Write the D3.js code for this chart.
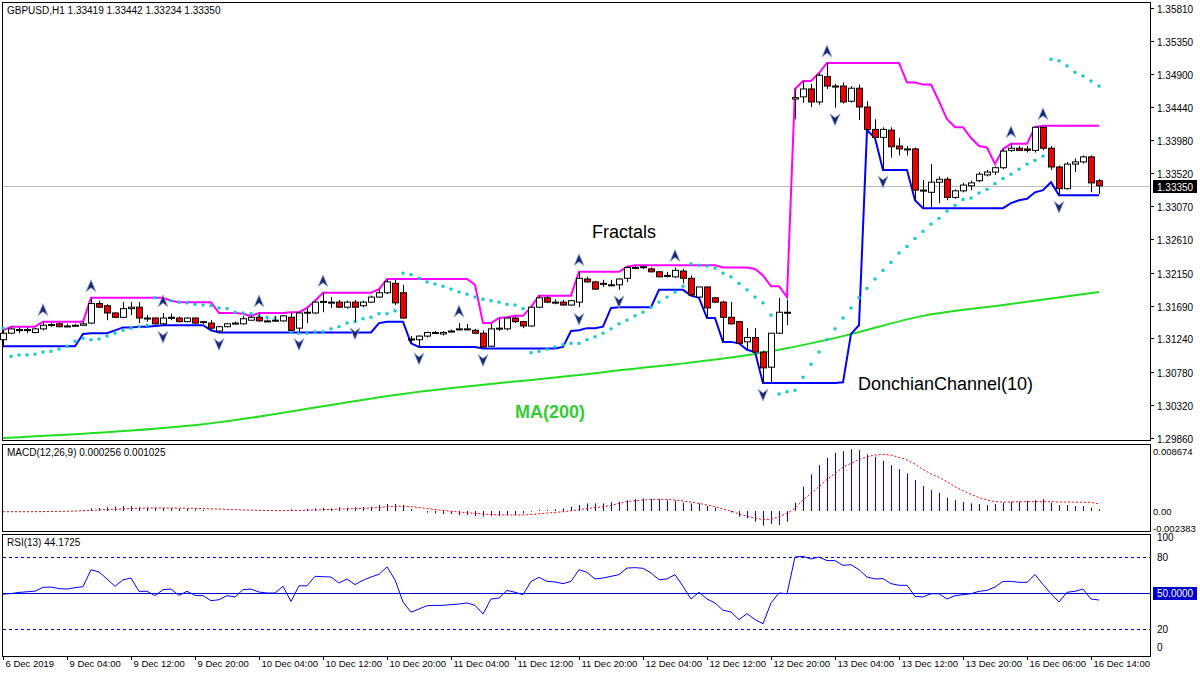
<!DOCTYPE html>
<html>
<head>
<meta charset="utf-8">
<script src="https://cdn.jsdelivr.net/npm/d3@7"></script>
<style>
body { margin: 0; background: #fff; }
svg text { font-family: "Liberation Sans", Arial, sans-serif; }
</style>
</head>
<body>
<svg id="chart" width="1200" height="675"></svg>
<script>
// GBPUSD H1 candles
var opens = [1.3122,1.3131,1.3136,1.3135,1.3132,1.3137,1.3142,1.3144,1.3141,1.3141,
1.3142,1.3145,1.3172,1.3169,1.3159,1.3153,1.3165,1.3167,1.3152,1.3152,
1.3144,1.3153,1.3152,1.3147,1.3152,1.3146,1.3145,1.3134,1.3140,1.3144,
1.3144,1.3149,1.3153,1.3148,1.3148,1.3148,1.3153,1.3138,1.3159,1.3159,
1.3174,1.3174,1.3174,1.3167,1.3174,1.3169,1.3174,1.3181,1.3187,1.3200,
1.3187,1.3123,1.3122,1.3127,1.3132,1.3130,1.3133,1.3136,1.3137,1.3135,
1.3131,1.3113,1.3137,1.3137,1.3152,1.3147,1.3141,1.3167,1.3180,1.3174,
1.3174,1.3170,1.3174,1.3206,1.3202,1.3200,1.3198,1.3198,1.3207,1.3222,
1.3222,1.3220,1.3216,1.3210,1.3209,1.3217,1.3207,1.3181,1.3195,1.3180,
1.3174,1.3153,1.3147,1.3119,1.3125,1.3105,1.3084,1.3131,1.3160,1.3455,
1.3458,1.3469,1.3451,1.3486,1.3473,1.3473,1.3452,1.3470,1.3444,1.3413,
1.3402,1.3412,1.3390,1.3386,1.3386,1.3329,1.3326,1.3340,1.3344,1.3319,
1.3328,1.3335,1.3342,1.3350,1.3354,1.3360,1.3384,1.3387,1.3386,1.3384,
1.3416,1.3387,1.3361,1.3331,1.3365,1.3368,1.3375,1.33419];
var highs = [1.3135,1.3140,1.3140,1.3140,1.3138,1.3147,1.3145,1.3145,1.3144,1.3144,
1.3147,1.3180,1.3176,1.3171,1.3160,1.3174,1.3174,1.3174,1.3156,1.3153,
1.3159,1.3158,1.3154,1.3153,1.3153,1.3148,1.3149,1.3141,1.3145,1.3147,
1.3155,1.3155,1.3159,1.3150,1.3155,1.3156,1.3160,1.3160,1.3166,1.3176,
1.3187,1.3181,1.3177,1.3176,1.3177,1.3176,1.3183,1.3192,1.3206,1.3206,
1.3198,1.3127,1.3128,1.3133,1.3134,1.3134,1.3136,1.3145,1.3144,1.3137,
1.3135,1.3144,1.3152,1.3153,1.3155,1.3148,1.3167,1.3183,1.3183,1.3178,
1.3177,1.3177,1.3216,1.3209,1.3203,1.3205,1.3205,1.3207,1.3223,1.3225,
1.3225,1.3222,1.3217,1.3216,1.3222,1.3220,1.3211,1.3195,1.3196,1.3181,
1.3176,1.3174,1.3148,1.3138,1.3138,1.3107,1.3131,1.3180,1.3177,1.3469,
1.3480,1.3476,1.3491,1.3505,1.3476,1.3478,1.3473,1.3475,1.3452,1.3427,
1.3416,1.3416,1.3401,1.3390,1.3388,1.3343,1.3365,1.3348,1.3347,1.3330,
1.3339,1.3342,1.3354,1.3357,1.3362,1.3386,1.3393,1.3390,1.3390,1.3416,
1.3418,1.3390,1.3363,1.3368,1.3373,1.3377,1.3377,1.33442];
var lows = [1.3113,1.3130,1.3131,1.3131,1.3131,1.3135,1.3140,1.3139,1.3140,1.3140,
1.3141,1.3144,1.3166,1.3149,1.3152,1.3152,1.3156,1.3145,1.3147,1.3143,
1.3142,1.3149,1.3146,1.3146,1.3144,1.3144,1.3135,1.3132,1.3139,1.3143,
1.3143,1.3148,1.3147,1.3147,1.3147,1.3147,1.3134,1.3132,1.3145,1.3158,
1.3160,1.3166,1.3166,1.3165,1.3147,1.3167,1.3173,1.3180,1.3185,1.3170,
1.3151,1.3117,1.3112,1.3125,1.3130,1.3128,1.3132,1.3135,1.3135,1.3130,
1.3110,1.3112,1.3134,1.3135,1.3145,1.3138,1.3140,1.3166,1.3173,1.3171,
1.3169,1.3169,1.3167,1.3201,1.3191,1.3195,1.3196,1.3191,1.3202,1.3220,
1.3220,1.3215,1.3209,1.3208,1.3208,1.3200,1.3183,1.3180,1.3152,1.3173,
1.3119,1.3143,1.3117,1.3108,1.3105,1.3062,1.3063,1.3130,1.3142,1.3427,
1.3450,1.3444,1.3447,1.3469,1.3443,1.3449,1.3450,1.3426,1.3412,1.3401,
1.3357,1.3374,1.3377,1.3377,1.3315,1.3304,1.3304,1.3311,1.3315,1.3317,
1.3326,1.3329,1.3340,1.3348,1.3350,1.3358,1.3382,1.3383,1.3381,1.3381,
1.3384,1.3357,1.3322,1.3330,1.3354,1.3366,1.3326,1.33234];
var closes = [1.3131,1.3137,1.3135,1.3136,1.3137,1.3142,1.3143,1.3140,1.3141,1.3142,
1.3144,1.3172,1.3167,1.3159,1.3153,1.3165,1.3167,1.3152,1.3151,1.3144,
1.3152,1.3153,1.3147,1.3152,1.3145,1.3147,1.3138,1.3140,1.3144,1.3145,
1.3151,1.3153,1.3148,1.3148,1.3149,1.3155,1.3135,1.3159,1.3160,1.3174,
1.3175,1.3174,1.3167,1.3174,1.3167,1.3174,1.3181,1.3187,1.3202,1.3173,
1.3152,1.3122,1.3127,1.3132,1.3132,1.3132,1.3134,1.3137,1.3137,1.3131,
1.3112,1.3137,1.3138,1.3152,1.3147,1.3141,1.3167,1.3180,1.3174,1.3174,
1.3170,1.3176,1.3207,1.3202,1.3192,1.3200,1.3198,1.3206,1.3222,1.3222,
1.3223,1.3216,1.3209,1.3211,1.3218,1.3207,1.3184,1.3195,1.3166,1.3174,
1.3153,1.3144,1.3117,1.3125,1.3105,1.3083,1.3131,1.3160,1.3159,1.3457,
1.3469,1.3451,1.3488,1.3473,1.3473,1.3451,1.3470,1.3444,1.3413,1.3402,
1.3413,1.3389,1.3386,1.3386,1.3329,1.3328,1.3340,1.3344,1.3319,1.3328,
1.3336,1.3339,1.3351,1.3354,1.3360,1.3383,1.3387,1.3384,1.3384,1.3416,
1.3387,1.3361,1.3331,1.3365,1.3368,1.3375,1.3339,1.33350];

// Parabolic SAR dots
var sar = [1.3138,1.3099,1.3101,1.3101,1.3102,1.3105,1.3106,1.3109,1.3113,1.3120,
1.3124,1.3122,1.3123,1.3127,1.3131,1.3135,1.3138,1.3140,1.3142,1.3180,
1.3177,1.3176,1.3174,1.3173,1.3171,1.3170,1.3169,1.3166,1.3165,1.3160,
1.3159,1.3158,1.3155,1.3153,1.3152,1.3152,1.3133,1.3131,1.3131,1.3133,
1.3133,1.3137,1.3140,1.3145,1.3147,1.3151,1.3153,1.3158,1.3158,1.3162,
1.3214,1.3212,1.3207,1.3202,1.3199,1.3196,1.3192,1.3188,1.3185,1.3181,
1.3178,1.3176,1.3174,1.3171,1.3170,1.3165,1.3104,1.3106,1.3109,1.3112,
1.3115,1.3117,1.3117,1.3122,1.3126,1.3131,1.3137,1.3144,1.3149,1.3155,
1.3160,1.3167,1.3174,1.3181,1.3188,1.3196,1.3227,1.3225,1.3224,1.3221,
1.3214,1.3209,1.3200,1.3191,1.3181,1.3173,1.3156,1.3047,1.3050,1.3052,
1.3070,1.3088,1.3105,1.3122,1.3137,1.3152,1.3166,1.3180,1.3193,1.3206,
1.3218,1.3229,1.3242,1.3251,1.3262,1.3272,1.3282,1.3290,1.3300,1.3308,
1.3316,1.3318,1.3325,1.3330,1.3338,1.3345,1.3351,1.3358,1.3365,1.3370,
1.3376,1.3510,1.3508,1.3501,1.3492,1.3487,1.3480,1.3473];

// MA(200) read at a few bars
var maIndex = [0, 25, 50, 75, 97, 105, 115, 125, 137];
var maValue = [1.2986, 1.3005, 1.3047, 1.3077, 1.3108, 1.3127, 1.3155, 1.3170, 1.3188];

// MACD(12,26,9), main and signal, in units of 1e-4
var macdMain = [-0.2,-0.2,-0.2,-0.2,-0.2,0,0,0,0,0,
1.4,3.8,4.3,5.3,6.2,7.2,7.2,5.3,5.3,4.8,
4.3,3.8,2.9,2.9,2.4,1.4,0.5,0.2,0.1,0,
0,0.3,0.2,0,0.1,0.5,2.4,0.5,2.9,3.8,
4.8,3.8,5.3,4.8,5.3,5.7,6.2,8.6,10.1,10.1,
8.6,2.9,0,-2.4,-3.4,-4.3,-4.3,-5.7,-5.7,-7.2,
-8.1,-7.2,-7.2,-5.7,-5.7,-3.4,-1,1.4,1.4,2.4,
3.8,6.2,8.6,11,11,11,12.5,13.4,15.8,17.2,
18.2,17.2,17.2,15.8,14.8,12,11,11,7.2,4.8,
0,-1.9,-8.1,-10.5,-15.3,-21.1,-18.7,-20.1,-15.3,12,
35,52.7,66.1,76.6,83.8,86.2,89.1,87.6,81.4,78,
72.3,66.1,60.3,54.1,44.5,35.9,30.2,26.3,19.2,15.8,
12.9,11,10.1,8.6,10.1,12,13.4,13.4,14.8,15.8,
17.2,12,8.6,8.6,7.2,7.2,4.8,2.56];
var macdSignal = [-1,-1,-1,-1,-1,-0.8,-0.5,-0.5,-0.3,0,
0.3,1,1.5,2,2.5,3,3.5,4,4.2,4.3,
4.3,4.2,4.1,4,3.8,3.5,3.2,2.8,2.4,2,
1.6,1.3,1,0.8,0.6,0.5,0.8,0.9,1.2,1.6,
2,2.4,2.8,3.2,3.6,4,4.5,5.2,6,6.7,
7.1,6.3,5,3.6,2.2,0.9,-0.3,-1.4,-2.4,-3.4,
-4.3,-5,-5.5,-5.7,-5.8,-5.6,-5,-4,-3,-2,
-1,0.3,1.8,3.5,5,6.2,8.1,11,13.4,14.8,
15.8,16.8,16.8,16.8,15.8,14.4,12.9,11,8.6,6.2,
2.9,0,-4.3,-7.2,-10.5,-12,-12,-8.1,-3.4,3.8,
15.8,25.4,35,45.5,54.1,62.7,68.5,74.3,78,80.5,
81.4,80.5,77.1,73.3,67.5,59.9,53.2,48.4,42.2,35,
29.2,24,19.2,15.8,13.4,12.9,12.9,13.4,13.4,13.4,
13.4,13.4,12.9,12.9,12.9,12.5,12.5,10.25];

// RSI(13)
var rsi = [49,49.5,50.5,51,51.5,54.7,55,53.6,53.3,54.4,
55.3,69.4,67.5,61.7,55.6,61,62.5,51.4,51.4,47.8,
52.8,53.3,48,51.4,48,47.8,43.6,44.4,47.8,46.7,
52.8,53.3,50.8,50,50,55.6,43,56,56,63.9,
63.6,63.3,58.3,61.7,57,60.6,63.3,65.6,71.7,61,
42.5,34,36.7,39.4,39.7,39.7,40.3,40.8,41.7,39.7,
32.5,45,45.8,52.2,50.6,48.6,59.7,63,59.7,59.2,
57.8,59.7,69.4,67.2,61.7,62.5,63.9,65.3,70.8,71.1,
70.6,66.7,61.1,61.7,65.3,55.6,45,50.6,45,41.7,
35.6,34.2,27.8,32.8,27.8,24.4,41.7,50,49.4,80,
80.6,78.3,80,77,77,73,73.6,69.4,63.3,61.7,
62,57.8,56.4,56.4,47.2,46.7,49.4,49.4,45,47.8,
48.6,49.4,51.4,52.2,55,59.7,59.7,58.9,58.9,65.3,
57,49.4,42.5,50.6,51.4,53.3,45,44.17];

var priceTicks = [1.35810,1.35350,1.34900,1.34440,1.33980,1.33520,1.33070,1.32610,1.32150,1.31690,1.31240,1.30780,1.30320,1.29860];
var timeLabels = ["6 Dec 2019","9 Dec 04:00","9 Dec 12:00","9 Dec 20:00","10 Dec 04:00","10 Dec 12:00","10 Dec 20:00","11 Dec 04:00","11 Dec 12:00","11 Dec 20:00","12 Dec 04:00","12 Dec 12:00","12 Dec 20:00","13 Dec 04:00","13 Dec 12:00","13 Dec 20:00","16 Dec 06:00","16 Dec 14:00"];
var labelStep = 8;

var n = closes.length;
var svg = d3.select("#chart");

var x = d3.scaleLinear().domain([0, n - 1]).range([3, 3 + 8 * (n - 1)]);
var y = d3.scaleLinear().domain([1.29860, 1.35810]).range([438, 8]);
var yM = d3.scaleLinear().domain([-23.83, 86.74]).range([527.6, 450.7]);
var yR = d3.scaleLinear().domain([0, 100]).range([653, 533]);

// donchian channel (10)
var dcUp = [], dcLo = [];
for (var i = 0; i < n; i++) {
    var s = Math.max(0, i - 9);
    dcUp.push(d3.max(highs.slice(s, i + 1)));
    dcLo.push(d3.min(lows.slice(s, i + 1)));
}

// fractals
var fracUp = [], fracDn = [];
for (var i = 2; i < n - 2; i++) {
    if (highs[i] > highs[i-1] && highs[i] > highs[i-2] && highs[i] > highs[i+1] && highs[i] > highs[i+2]) fracUp.push(i);
    if (lows[i] < lows[i-1] && lows[i] < lows[i-2] && lows[i] < lows[i+1] && lows[i] < lows[i+2]) fracDn.push(i);
}

// panel frames
var panels = [[2, 2, 1148, 438], [2, 444, 1148, 87], [2, 534, 1148, 122]];
panels.forEach(function(p) {
    svg.append("rect").attr("x", p[0] + 0.5).attr("y", p[1] + 0.5).attr("width", p[2]).attr("height", p[3])
        .attr("fill", "none").attr("stroke", "#000");
});

var main = svg.append("g");
var idx = d3.range(n);

// current price line
var lastY = Math.round(y(closes[n-1])) + 0.5;
main.append("line").attr("x1", 3).attr("x2", 1150).attr("y1", lastY).attr("y2", lastY).attr("stroke", "#b8b8b8");

// MA(200)
main.append("path")
    .attr("d", d3.line().x(function(d) { return x(d); }).y(function(d, k) { return y(maValue[k]); }).curve(d3.curveMonotoneX)(maIndex))
    .attr("fill", "none").attr("stroke", "#22dd22").attr("stroke-width", 2);

// donchian
var dcLine = function(arr) { return d3.line().x(function(i) { return x(i); }).y(function(i) { return y(arr[i]); })(idx); };
main.append("path").attr("d", dcLine(dcUp)).attr("fill", "none").attr("stroke", "#ff00ff").attr("stroke-width", 2);
main.append("path").attr("d", dcLine(dcLo)).attr("fill", "none").attr("stroke", "#0000ff").attr("stroke-width", 2);

// SAR dots
main.selectAll(".sar").data(idx).enter().append("rect")
    .attr("x", function(i) { return x(i) - 1.5; }).attr("y", function(i) { return y(sar[i]) - 1.5; })
    .attr("width", 3).attr("height", 3).attr("fill", "#10c8d0");

// candles
var cg = main.selectAll(".candle").data(idx).enter().append("g");
cg.append("line")
    .attr("x1", function(i) { return Math.round(x(i)) + 0.5; }).attr("x2", function(i) { return Math.round(x(i)) + 0.5; })
    .attr("y1", function(i) { return y(highs[i]); }).attr("y2", function(i) { return y(lows[i]); })
    .attr("stroke", "#000");
cg.append("rect")
    .attr("x", function(i) { return Math.round(x(i)) - 2.5; })
    .attr("y", function(i) { return y(Math.max(opens[i], closes[i])); })
    .attr("width", 6)
    .attr("height", function(i) { return Math.max(1, Math.abs(y(opens[i]) - y(closes[i]))); })
    .attr("fill", function(i) { return closes[i] >= opens[i] ? "#fff" : "#ee0000"; })
    .attr("stroke", "#000");

// fractal arrows
var arrowUp = "M0,-7 L5,5 L0,1 L-5,5 Z";
var arrowDn = "M0,7 L5,-5 L0,-1 L-5,-5 Z";
main.selectAll(".fu").data(fracUp).enter().append("path")
    .attr("d", arrowUp).attr("fill", "#1a2470").attr("stroke", "#9ab0e0").attr("stroke-width", 0.8)
    .attr("transform", function(i) { return "translate(" + x(i) + "," + (y(highs[i]) - 11) + ")"; });
main.selectAll(".fd").data(fracDn).enter().append("path")
    .attr("d", arrowDn).attr("fill", "#1a2470").attr("stroke", "#9ab0e0").attr("stroke-width", 0.8)
    .attr("transform", function(i) { return "translate(" + x(i) + "," + (y(lows[i]) + 11) + ")"; });

// annotations
svg.append("text").attr("x", 592).attr("y", 238).attr("font-size", 18).text("Fractals");
svg.append("text").attr("x", 858).attr("y", 390).attr("font-size", 18).text("DonchianChannel(10)");
svg.append("text").attr("x", 515).attr("y", 418).attr("font-size", 18).attr("font-weight", "bold").attr("fill", "#33cc33").text("MA(200)");
svg.append("text").attr("x", 7).attr("y", 14).attr("font-size", 10).text("GBPUSD,H1  1.33419 1.33442 1.33234 1.33350");

// price axis
var ax = svg.append("g");
priceTicks.forEach(function(t) {
    var yy = Math.round(y(t)) + 0.5;
    ax.append("line").attr("x1", 1150).attr("x2", 1154).attr("y1", yy).attr("y2", yy).attr("stroke", "#000");
    ax.append("text").attr("x", 1157).attr("y", yy + 4).attr("font-size", 10).text(t.toFixed(5));
});
ax.append("rect").attr("x", 1153).attr("y", lastY - 6.5).attr("width", 44).attr("height", 13).attr("fill", "#000");
ax.append("text").attr("x", 1157).attr("y", lastY + 4).attr("font-size", 10).attr("fill", "#fff").text(closes[n-1].toFixed(5));

// MACD panel
svg.append("text").attr("x", 7).attr("y", 456).attr("font-size", 10).text("MACD(12,26,9) 0.000256 0.001025");
svg.selectAll(".mh").data(idx).enter().append("line")
    .attr("x1", function(i) { return Math.round(x(i)) + 0.5; }).attr("x2", function(i) { return Math.round(x(i)) + 0.5; })
    .attr("y1", yM(0)).attr("y2", function(i) { return yM(macdMain[i]); })
    .attr("stroke", "#0000ff");
svg.append("path")
    .attr("d", d3.line().x(function(i) { return x(i); }).y(function(i) { return yM(macdSignal[i]); })(idx))
    .attr("fill", "none").attr("stroke", "#ff0000").attr("stroke-dasharray", "2,2");
[[86.74, "0.008674"], [0, "0.00"], [-23.83, "-0.002383"]].forEach(function(t) {
    svg.append("text").attr("x", 1153).attr("y", yM(t[0]) + 4).attr("font-size", 9.5).text(t[1]);
});

// RSI panel
svg.append("text").attr("x", 7).attr("y", 546).attr("font-size", 10).text("RSI(13) 44.1725");
[80, 20].forEach(function(v) {
    svg.append("line").attr("x1", 3).attr("x2", 1150).attr("y1", Math.round(yR(v)) + 0.5).attr("y2", Math.round(yR(v)) + 0.5)
        .attr("stroke", "#0000cc").attr("stroke-dasharray", "3,3");
});
svg.append("line").attr("x1", 3).attr("x2", 1150).attr("y1", Math.round(yR(50)) + 0.5).attr("y2", Math.round(yR(50)) + 0.5)
    .attr("stroke", "#0000cc");
svg.append("path")
    .attr("d", d3.line().x(function(i) { return x(i); }).y(function(i) { return yR(rsi[i]); })(idx))
    .attr("fill", "none").attr("stroke", "#0000ff");
[[100, 541], [80, 561], [20, 633], [0, 651]].forEach(function(t) {
    svg.append("text").attr("x", 1157).attr("y", t[1]).attr("font-size", 10).text(t[0]);
});
svg.append("rect").attr("x", 1153).attr("y", yR(50) - 6).attr("width", 44).attr("height", 13).attr("fill", "#0000cc");
svg.append("text").attr("x", 1157).attr("y", yR(50) + 4).attr("font-size", 10).attr("fill", "#fff").text("50.0000");

// time axis
timeLabels.forEach(function(t, k) {
    var xx = Math.round(x(k * labelStep)) + 0.5;
    svg.append("line").attr("x1", xx).attr("x2", xx).attr("y1", 656).attr("y2", 660).attr("stroke", "#000");
    svg.append("text").attr("x", xx + 2).attr("y", 667).attr("font-size", 9.5).text(t);
});
</script>
</body>
</html>
